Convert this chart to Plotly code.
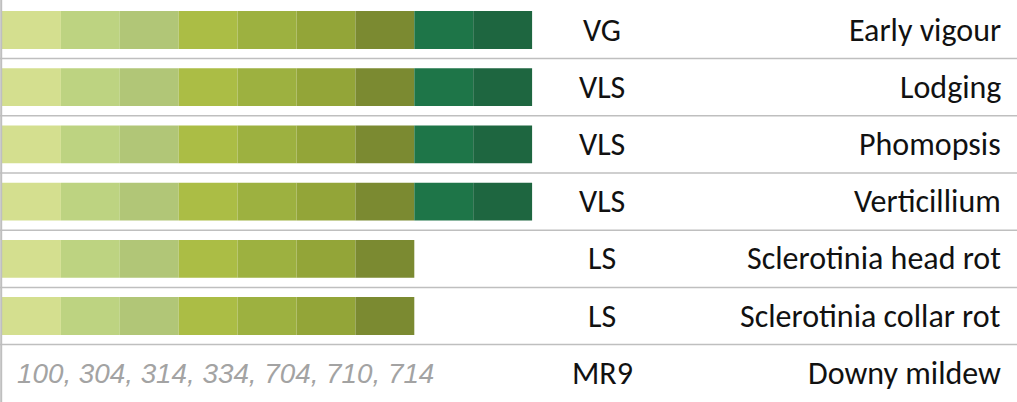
import plotly.graph_objects as go

traits = ["Early vigour", "Lodging", "Phomopsis", "Verticillium",
          "Sclerotinia head rot", "Sclerotinia collar rot", "Downy mildew"]
ratings = ["VG", "VLS", "VLS", "VLS", "LS", "LS", "MR9"]
scores = [9, 9, 9, 9, 7, 7, 0]
races_text = "100, 304, 314, 334, 704, 710, 714"
seg_colors = ["#d4df8f", "#bdd381", "#b1c677", "#abbd45", "#9db140",
              "#93a538", "#7b8a31", "#1e7548", "#1e6640"]

W, H = 1017, 402
seg_px = 58.9
x0_px = 2
row0_px = 30
pitch = 57.2

fig = go.Figure()
for i, col in enumerate(seg_colors):
    ys = [t for t, s in zip(traits, scores) if s >= i + 1]
    fig.add_trace(go.Bar(
        y=ys, x=[1] * len(ys), base=[i] * len(ys), orientation="h",
        marker=dict(color=col, line=dict(width=0)), width=0.66,
        hoverinfo="skip", showlegend=False))

font_main = "Carlito, Lato, 'Open Sans', sans-serif"
for t, r, s in zip(traits, ratings, scores):
    fig.add_annotation(x=602 / W, xref="paper", y=t, yref="y", text=r,
                       showarrow=False, xanchor="center", yanchor="middle",
                       font=dict(family=font_main, size=32, color="#111111"))
    fig.add_annotation(x=1003 / W, xref="paper", y=t, yref="y", text=t,
                       showarrow=False, xanchor="right", yanchor="middle",
                       font=dict(family=font_main, size=32, color="#111111"))
    if s == 0:
        fig.add_annotation(x=15 / W, xref="paper", y=t, yref="y",
                           text="<i>" + races_text + "</i>",
                           showarrow=False, xanchor="left", yanchor="middle",
                           font=dict(family="'Liberation Sans', Arial, sans-serif",
                                     size=27.8, color="#a3a3a3"))

for k in range(len(traits) - 1):
    fig.add_shape(type="line", xref="paper", x0=0, x1=1, yref="y",
                  y0=k + 0.5, y1=k + 0.5, line=dict(color="#bfbfbf", width=1.5))
fig.add_shape(type="line", xref="paper", x0=1.2 / W, x1=1.2 / W, yref="paper",
              y0=0, y1=1, line=dict(color="#bfbfbf", width=2))

fig.update_layout(
    width=W, height=H, margin=dict(l=0, r=0, t=0, b=0),
    plot_bgcolor="white", paper_bgcolor="white", barmode="overlay",
    xaxis=dict(range=[-x0_px / seg_px, (W - x0_px) / seg_px], visible=False,
               fixedrange=True),
    yaxis=dict(categoryorder="array", categoryarray=traits,
               range=[(H - row0_px) / pitch, -row0_px / pitch],
               visible=False, fixedrange=True),
)
fig.write_html("out.html", config={"displayModeBar": False},
               post_script="document.body.style.margin='0';document.body.style.overflow='hidden';")
